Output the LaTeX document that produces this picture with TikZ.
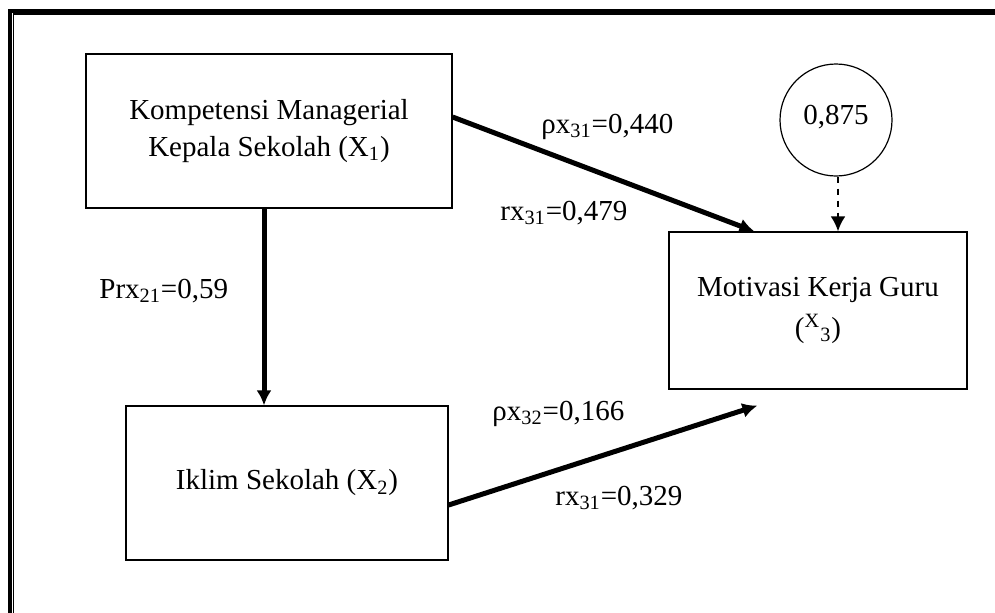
\documentclass[tikz,border=0pt]{standalone}
\usepackage{fontspec}
\setmainfont{Liberation Serif}
\usetikzlibrary{arrows.meta}

\begin{document}
\begin{tikzpicture}[x = 0.5pt, y = -0.5pt, > = {Latex[length=7.5pt, width=7.5pt]},
	box/.style = {draw, line width = 0.6pt, align = center, inner sep = 0pt},
	lbl/.style = {anchor = base west, inner sep = 0pt},
	path/.style = {->, line width = 2.5pt}]

	\useasboundingbox (0, 0) rectangle (995, 612);
	\clip (0, 0) rectangle (995, 612);

	\fontsize{14.5}{18.5}\selectfont

	% Outer frame (only top and left edge are visible)

	\draw [line width = 2pt] (10, 700) -- (10, 11) -- (1100, 11);
	\draw [line width = 0.6pt] (13.5, 700) -- (13.5, 14) -- (1100, 14);

	% The variables

	\node [box, minimum width = 183pt, minimum height = 77pt] (komp) at (269, 131)
		{Kompetensi Managerial\\Kepala Sekolah (X\textsubscript{1})};
	\node [box, minimum width = 161pt, minimum height = 77pt] (iklim) at (287, 483)
		{Iklim Sekolah (X\textsubscript{2})};
	\node [box, minimum width = 149pt, minimum height = 78.5pt] (motiv) at (818, 310.5)
		{Motivasi Kerja Guru\\[2pt](\textsuperscript{X}\textsubscript{3})};

	% Residual

	\node [draw, circle, line width = 0.6pt, minimum size = 56pt, inner sep = 0pt] (eps) at (836, 120)
		{\raisebox{5pt}{0,875}};

	% Paths

	\begin{scope}[path]

		\draw ([xshift = -2.5pt] komp.south) -- ([xshift = -2.5pt] komp.south |- iklim.north);
		\draw ([yshift = 7pt] komp.east) -- ([xshift = 43pt] motiv.north west);
		\draw ([yshift = -11pt] iklim.east) -- ([xshift = 44.5pt, yshift = -8pt] motiv.south west);

	\end{scope}

	\draw [->, dashed, line width = 1.3pt] ([xshift = 1pt] eps.south) -- ([xshift = 1pt] eps.south |- motiv.north);

	% Coefficients

	\node [lbl] (p31) at (541, 133) {ρx\textsubscript{31}=0,440};
	\node [lbl] (r31) at (500, 220) {rx\textsubscript{31}=0,479};
	\node [lbl] (p21) at (99, 298) {Prx\textsubscript{21}=0,59};
	\node [lbl] (p32) at (492, 420) {ρx\textsubscript{32}=0,166};
	\node [lbl] (r32) at (555, 505) {rx\textsubscript{31}=0,329};

\end{tikzpicture}
\end{document}
